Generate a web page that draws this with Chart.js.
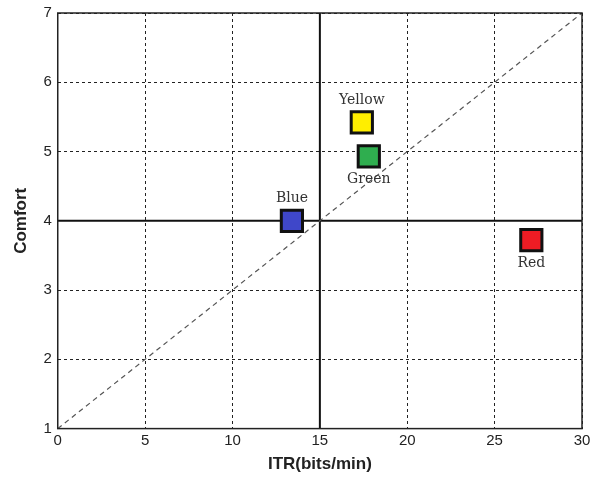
<!DOCTYPE html>
<html>
<head>
<meta charset="utf-8">
<script src="https://cdn.jsdelivr.net/npm/chart.js@4/dist/chart.umd.min.js"></script>
<style>
  html, body { margin: 0; padding: 0; background: #fff; }
  #wrap { width: 601px; height: 477px; }
</style>
</head>
<body>
<div id="wrap"><canvas id="myChart" width="601" height="477"></canvas></div>
<script>
// data
const names = ['Blue', 'Yellow', 'Green', 'Red'];
const itr = [13.4, 17.4, 17.8, 27.1];
const comfort = [4.0, 5.42, 4.93, 3.72];
const labelSide = ['above', 'above', 'below', 'below'];
const diagX = [0, 30];
const diagY = [1, 7];
const midX = 15;
const midY = 4;

const fills = ['#3f47c9', '#ffee00', '#2fae4f', '#ee1c24'];

// point labels next to each square
const nameLabels = {
    id: 'nameLabels',
    afterDatasetsDraw(chart) {
        const ctx = chart.ctx;
        ctx.save();
        ctx.font = '14px "DejaVu Serif", "Liberation Serif", serif';
        ctx.fillStyle = '#333';
        ctx.textAlign = 'center';
        ctx.textBaseline = 'middle';
        names.forEach((n, i) => {
            const pt = chart.getDatasetMeta(i).data[0];
            const dy = labelSide[i] === 'above' ? -22 : 23;
            ctx.fillText(n, pt.x, pt.y + dy);
        });
        ctx.restore();
    }
};

// full box round the plot area
const frame = {
    id: 'frame',
    afterDraw(chart) {
        const { ctx, chartArea: a } = chart;
        ctx.save();
        ctx.strokeStyle = '#222';
        ctx.lineWidth = 1.5;
        ctx.strokeRect(a.left, a.top, a.right - a.left, a.bottom - a.top);
        ctx.restore();
    }
};

const pointSets = names.map((n, i) => ({
    label: n,
    data: [{ x: itr[i], y: comfort[i] }],
    pointStyle: 'rect',
    pointRadius: 15,
    pointHoverRadius: 15,
    backgroundColor: fills[i],
    borderColor: '#111',
    borderWidth: 3,
}));

const ctx = document.getElementById('myChart').getContext('2d');
new Chart(ctx, {
    type: 'scatter',
    data: {
        datasets: [
            ...pointSets,
            {
                label: 'diag',
                type: 'line',
                data: diagX.map((x, i) => ({ x: x, y: diagY[i] })),
                borderColor: '#555',
                borderWidth: 1.2,
                borderDash: [5, 4],
                pointRadius: 0,
                order: 10,
            },
            {
                label: 'vline',
                type: 'line',
                data: [{ x: midX, y: 1 }, { x: midX, y: 7 }],
                borderColor: '#111',
                borderWidth: 2,
                pointRadius: 0,
                order: 10,
            },
            {
                label: 'hline',
                type: 'line',
                data: [{ x: 0, y: midY }, { x: 30, y: midY }],
                borderColor: '#111',
                borderWidth: 2,
                pointRadius: 0,
                order: 10,
            },
        ],
    },
    options: {
        responsive: false,
        animation: false,
        layout: { autoPadding: false, padding: { top: 13, right: 19, left: 11, bottom: 2 } },
        scales: {
            x: {
                type: 'linear',
                min: 0,
                max: 30,
                ticks: {
                    stepSize: 5,
                    color: '#222',
                    padding: 3,
                    font: { family: '"Liberation Sans", Arial, sans-serif', size: 15 },
                },
                grid: { color: '#222', lineWidth: 1, drawTicks: false },
                border: { display: false, dash: [3, 3] },
                title: {
                    display: true,
                    text: 'ITR(bits/min)',
                    color: '#222',
                    padding: { top: 2, bottom: 0 },
                    font: { family: '"Liberation Sans", Arial, sans-serif', size: 17, weight: 'bold' },
                },
            },
            y: {
                type: 'linear',
                min: 1,
                max: 7,
                ticks: {
                    stepSize: 1,
                    color: '#222',
                    padding: 6,
                    font: { family: '"Liberation Sans", Arial, sans-serif', size: 15, lineHeight: 0.9 },
                },
                grid: { color: '#222', lineWidth: 1, drawTicks: false },
                border: { display: false, dash: [3, 3] },
                title: {
                    display: true,
                    text: 'Comfort',
                    color: '#222',
                    padding: { top: 0, bottom: 6 },
                    font: { family: '"Liberation Sans", Arial, sans-serif', size: 17, weight: 'bold' },
                },
            },
        },
        plugins: {
            legend: { display: false },
            tooltip: { enabled: false },
        },
    },
    plugins: [nameLabels, frame],
});
</script>
</body>
</html>
